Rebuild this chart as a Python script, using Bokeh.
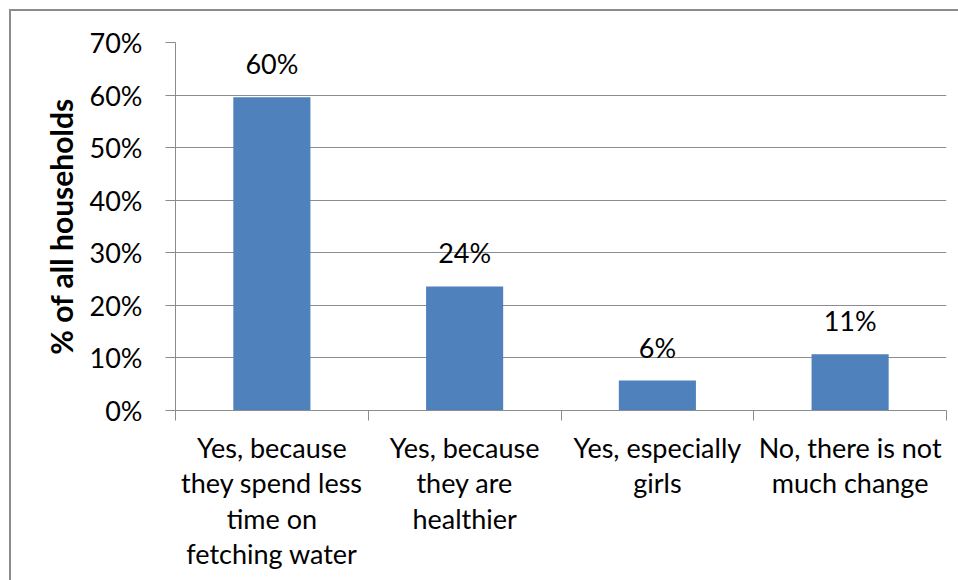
from bokeh.plotting import figure
from bokeh.models import (Range1d, FixedTicker, PrintfTickFormatter, ColumnDataSource,
                          LabelSet)
from bokeh.core.properties import value
from bokeh.embed import file_html
from bokeh.resources import INLINE

# Survey answers and share of households (%)
categories = [
    "Yes, because\nthey spend less\ntime on\nfetching water",
    "Yes, because\nthey are\nhealthier",
    "Yes, especially\ngirls",
    "No, there is not\nmuch change",
]
shares = [59.6, 23.6, 5.7, 10.7]
y_ticks = [0, 10, 20, 30, 40, 50, 60, 70]
y_title = "% of all households"

FONT = "Lato"
BLUE = "#4F81BD"
GRAY = "#8c8c8c"
OFF = 11  # chart area border offset from the page corner

n = len(categories)
centers = [i + 0.5 for i in range(n)]
labels = [f"{v:.0f}%" for v in shares]

src = ColumnDataSource(dict(x=centers, top=shares, label=labels))

p = figure(width=958 - OFF, height=580 - OFF, output_backend="svg", toolbar_location=None,
           x_range=Range1d(0, n), y_range=Range1d(0, 70),
           min_border_left=177 - OFF - 2, min_border_right=14,
           min_border_top=44 - OFF - 2, min_border_bottom=580 - 408)

# chart area border on the left and top
p.margin = (OFF - 2, 0, 0, OFF - 2)
p.styles = {"border-left": f"2px solid {GRAY}", "border-top": f"2px solid {GRAY}",
            "box-sizing": "content-box"}

p.vbar(x="x", top="top", width=0.4, source=src, fill_color=BLUE, line_color=None)

p.add_layout(LabelSet(x="x", y="top", text="label", source=src, y_offset=23,
                      text_align="center", text_baseline="alphabetic",
                      text_font=value(FONT), text_font_size="27px", text_color="#000000"))

# y axis
ya = p.yaxis[0]
ya.ticker = FixedTicker(ticks=y_ticks)
ya.formatter = PrintfTickFormatter(format="%d%%")
ya.major_tick_out = 10
ya.major_tick_in = 0
ya.minor_tick_out = 0
ya.minor_tick_in = 0
ya.axis_line_color = GRAY
ya.major_tick_line_color = GRAY
ya.major_label_text_font = FONT
ya.major_label_text_font_size = "27px"
ya.major_label_text_color = "#000000"
ya.major_label_standoff = 23
ya.axis_label = y_title
ya.axis_label_text_font = FONT
ya.axis_label_text_font_style = "bold"
ya.axis_label_text_font_size = "30px"
ya.axis_label_text_color = "#000000"
ya.axis_label_standoff = 8

# x axis: labels at category centres, tick marks at category boundaries
xa = p.xaxis[0]
xa.ticker = FixedTicker(ticks=centers, minor_ticks=list(range(n + 1)))
xa.major_label_overrides = {c: lab for c, lab in zip(centers, categories)}
xa.major_tick_out = 0
xa.major_tick_in = 0
xa.minor_tick_out = 10
xa.minor_tick_in = 0
xa.minor_tick_line_color = GRAY
xa.axis_line_color = GRAY
xa.major_label_text_font = FONT
xa.major_label_text_font_size = "27px"
xa.major_label_text_color = "#000000"
xa.major_label_text_line_height = 1.08
xa.major_label_standoff = 10

p.xgrid.visible = False
p.ygrid.ticker = FixedTicker(ticks=y_ticks)
p.ygrid.grid_line_color = GRAY
p.ygrid.grid_line_width = 1
p.outline_line_color = None

open("out.html", "w").write(file_html(p, INLINE))
